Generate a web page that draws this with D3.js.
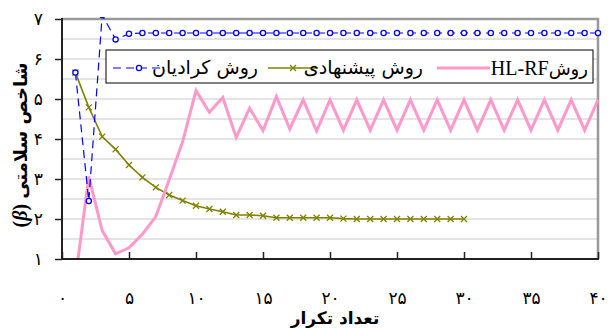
<!DOCTYPE html>
<meta charset="utf-8">
<style>
body { margin: 0; background: #fff; }
svg { font-family: "DejaVu Sans", sans-serif; }
.axis path { display: none; }
.axis line { stroke: #222; stroke-width: 1.5; }
.axis text { font-size: 17px; fill: #000; font-family: "DejaVu Sans", sans-serif; }
.grid { stroke: #c8c8c8; stroke-width: 1; }
</style>
<body>
<script src="https://d3js.org/d3.v7.min.js"></script>
<script>

// iteration numbers and method values
var iter = d3.range(1, 41);
var gradient = [5.66, 2.45, 7.1, 6.49, 6.63, 6.65, 6.65, 6.65, 6.65, 6.65,
                6.65, 6.65, 6.65, 6.65, 6.65, 6.65, 6.65, 6.65, 6.65, 6.65,
                6.65, 6.65, 6.65, 6.65, 6.65, 6.65, 6.65, 6.65, 6.65, 6.65,
                6.65, 6.65, 6.65, 6.65, 6.65, 6.65, 6.65, 6.65, 6.65, 6.65];
var proposed = [5.66, 4.79, 4.06, 3.74, 3.35, 3.04, 2.79, 2.6, 2.46, 2.33,
                2.25, 2.18, 2.1, 2.1, 2.08, 2.03, 2.03, 2.03, 2.03, 2.03,
                2.01, 2.0, 2.0, 2.0, 2.0, 2.0, 2.0, 2.0, 2.0, 2.0];
var hlrf = [0.5, 3.06, 1.71, 1.13, 1.28, 1.62, 2.06, 2.98, 3.93, 5.21,
            4.67, 5.04, 4.04, 4.77, 4.21, 5.06, 4.25, 4.98, 4.2, 4.98,
            4.22, 4.98, 4.22, 4.98, 4.22, 4.98, 4.22, 4.98, 4.22, 4.98,
            4.22, 4.98, 4.22, 4.98, 4.22, 4.98, 4.22, 4.98, 4.22, 4.98];
var xTicks = [0, 5, 10, 15, 20, 25, 30, 35, 40];
var yTicks = [1, 2, 3, 4, 5, 6, 7];

var fa = function(n) { return String(n).replace(/\d/g, function(d) { return "۰۱۲۳۴۵۶۷۸۹"[d]; }); };

var W = 608, H = 328;
var pL = 62, pR = 598, pT = 19, pB = 259;

var x = d3.scaleLinear().domain([0, 40]).range([pL, pR]);
var y = d3.scaleLinear().domain([1, 7]).range([pB, pT]);

var svg = d3.select("body").append("svg")
    .attr("width", W)
    .attr("height", H);

// grid lines every half unit
svg.selectAll(".grid")
    .data(d3.range(1.5, 7, 0.5))
  .enter().append("line")
    .attr("class", "grid")
    .attr("x1", pL).attr("x2", pR)
    .attr("y1", function(d) { return y(d); })
    .attr("y2", function(d) { return y(d); });

// frame top/right
svg.append("path")
    .attr("d", "M" + pL + "," + pT + "H" + pR + "V" + pB)
    .attr("fill", "none")
    .attr("stroke", "#999")
    .attr("stroke-width", 2.5);

svg.append("defs").append("clipPath").attr("id", "clip")
  .append("rect")
    .attr("x", pL).attr("y", pT - 2)
    .attr("width", pR - pL + 6).attr("height", pB - pT + 2);

var plot = svg.append("g").attr("clip-path", "url(#clip)");

var line = d3.line()
    .x(function(d, i) { return x(iter[i]); })
    .y(function(d) { return y(d); });

// proposed
plot.append("path")
    .datum(proposed)
    .attr("d", line)
    .attr("fill", "none")
    .attr("stroke", "#808000")
    .attr("stroke-width", 1.6);

plot.selectAll(".xm")
    .data(proposed)
  .enter().append("path")
    .attr("class", "xm")
    .attr("transform", function(d, i) { return "translate(" + x(iter[i]) + "," + y(d) + ")"; })
    .attr("d", "M-3,-3L3,3M-3,3L3,-3")
    .attr("stroke", "#808000")
    .attr("stroke-width", 1.3);

// HL-RF
plot.append("path")
    .datum(hlrf)
    .attr("d", line)
    .attr("fill", "none")
    .attr("stroke", "#ff99cc")
    .attr("stroke-width", 3)
    .attr("stroke-linejoin", "miter");

// gradient
plot.append("path")
    .datum(gradient)
    .attr("d", line)
    .attr("fill", "none")
    .attr("stroke", "#0000ff")
    .attr("stroke-width", 1.2)
    .attr("stroke-dasharray", "8,5");

plot.selectAll(".om")
    .data(gradient)
  .enter().append("circle")
    .attr("class", "om")
    .attr("cx", function(d, i) { return x(iter[i]); })
    .attr("cy", function(d) { return y(d); })
    .attr("r", 2.6)
    .attr("fill", "#fff")
    .attr("stroke", "#0000ff")
    .attr("stroke-width", 1.3);

// axes
var yAxis = d3.axisLeft(y).tickValues(yTicks).tickFormat(fa).tickSize(7).tickPadding(12);
svg.append("g")
    .attr("class", "axis")
    .attr("transform", "translate(" + pL + ",0)")
    .call(yAxis);

var xAxis = d3.axisBottom(x).tickValues(xTicks).tickFormat(fa).tickSizeInner(-7).tickSizeOuter(0).tickPadding(33);
svg.append("g")
    .attr("class", "axis")
    .attr("transform", "translate(0," + pB + ")")
    .call(xAxis);

svg.append("path")
    .attr("d", "M" + pL + "," + (pT - 1) + "V" + pB + "H" + (pR + 1))
    .attr("fill", "none")
    .attr("stroke", "#222")
    .attr("stroke-width", 2);

// titles
svg.append("text")
    .attr("x", 335)
    .attr("y", 324)
    .attr("text-anchor", "middle")
    .style("font-size", "17px")
    .style("font-weight", "bold")
    .text("تعداد تکرار");

var yt = svg.append("text")
    .attr("transform", "translate(27,145) rotate(-90)")
    .attr("text-anchor", "middle")
    .style("font-size", "18px")
    .style("font-weight", "bold");
yt.append("tspan").style("font-family", "Liberation Serif").style("font-size", "20px").text("(");
yt.append("tspan").style("font-family", "Liberation Serif").style("font-style", "italic").style("font-size", "20px").text("β");
yt.append("tspan").style("font-family", "Liberation Serif").style("font-size", "20px").text(") ");
yt.append("tspan").text("شاخص سلامتی");

// legend
var lg = svg.append("g");
lg.append("rect")
    .attr("x", 106).attr("y", 50)
    .attr("width", 487).attr("height", 33)
    .attr("fill", "#fff")
    .attr("stroke", "#000")
    .attr("stroke-width", 1);

var ly = 68;
lg.append("line").attr("x1", 437).attr("x2", 490).attr("y1", ly).attr("y2", ly)
    .attr("stroke", "#ff99cc").attr("stroke-width", 3);
var t1 = lg.append("text").attr("x", 588).attr("y", ly + 7).attr("text-anchor", "end");
t1.append("tspan").style("font-family", "Liberation Serif").style("font-size", "20px").text("HL-RF");
t1.append("tspan").style("font-size", "18px").text("روش");

lg.append("line").attr("x1", 268).attr("x2", 318).attr("y1", ly).attr("y2", ly)
    .attr("stroke", "#808000").attr("stroke-width", 1.6);
lg.append("path").attr("transform", "translate(293," + ly + ")")
    .attr("d", "M-3,-3L3,3M-3,3L3,-3").attr("stroke", "#808000").attr("stroke-width", 1.3);
lg.append("text").attr("x", 423).attr("y", ly + 6).attr("text-anchor", "end")
    .style("font-size", "19px").text("روش پیشنهادی");

lg.append("line").attr("x1", 113).attr("x2", 165).attr("y1", ly).attr("y2", ly)
    .attr("stroke", "#0000ff").attr("stroke-width", 1.2).attr("stroke-dasharray", "8,5");
lg.append("circle").attr("cx", 139).attr("cy", ly).attr("r", 2.6)
    .attr("fill", "#fff").attr("stroke", "#0000ff").attr("stroke-width", 1.3);
lg.append("text").attr("x", 258).attr("y", ly + 6).attr("text-anchor", "end")
    .style("font-size", "19px").text("روش کرادیان");

</script>
